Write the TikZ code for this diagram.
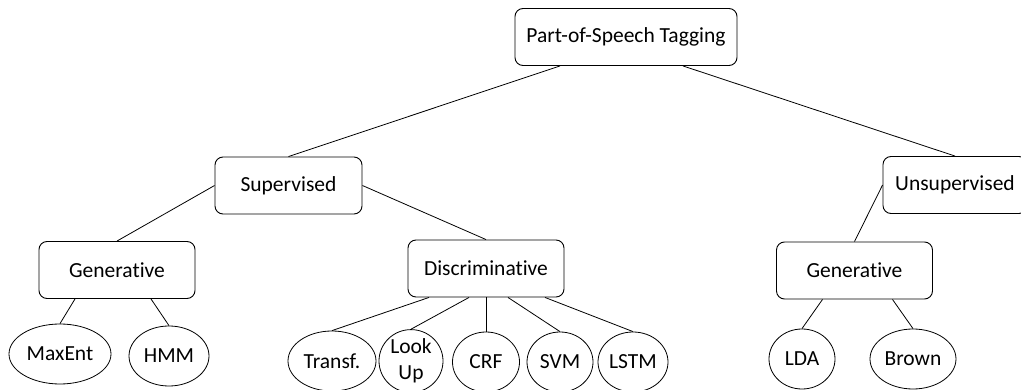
\documentclass[tikz,border=0pt]{standalone}
\usepackage{fontspec}
\setmainfont{Carlito}[Ligatures=NoCommon]
\usetikzlibrary{shapes.geometric}

\begin{document}
\begin{tikzpicture}[x=1pt,y=-1pt,
    catbox/.style={draw,rounded corners=8pt,line width=0.9pt,minimum width=156pt,minimum height=57pt,inner sep=2pt,font=\fontsize{21.5}{26}\selectfont},
    method/.style={draw,ellipse,line width=0.8pt,minimum height=60pt,inner sep=0pt,align=center,font=\fontsize{21.5}{26}\selectfont},
    link/.style={line width=0.8pt}]
  \useasboundingbox (0,0) rectangle (1021,390);
  % top level
  \node[catbox,minimum width=222pt] (root) at (626,37) {Part-of-Speech Tagging};
  \node[catbox,minimum width=147pt] (sup) at (288.5,185.5) {Supervised};
  \node[catbox,minimum width=144pt] (uns) at (955,185) {Unsupervised};
  % middle level
  \node[catbox] (gen) at (117,270) {Generative};
  \node[catbox] (disc) at (486,268.5) {Discriminative};
  \node[catbox] (ugen) at (854.5,270.5) {Generative};
  % leaves
  \node[method,minimum width=102pt] (maxent) at (60,354) {MaxEnt};
  \node[method,minimum width=80pt] (hmm) at (169,356) {HMM};
  \node[method,minimum width=88pt] (transf) at (332,361) {Transf.};
  \node[method,minimum width=64pt] (lookup) at (411,361) {Look\\Up};
  \node[method,minimum width=67pt] (crf) at (486,362) {CRF};
  \node[method,minimum width=66pt] (svm) at (560,362) {SVM};
  \node[method,minimum width=70pt] (lstm) at (633,362) {LSTM};
  \node[method,minimum width=66pt] (lda) at (802,359) {LDA};
  \node[method,minimum width=86pt] (brown) at (913,359) {Brown};
  % connectors
  \draw[link] ([xshift=-66pt]root.south) -- (sup.north);
  \draw[link] ([xshift=57pt]root.south) -- (uns.north);
  \draw[link] (sup.west) -- (gen.north);
  \draw[link] (sup.east) -- (disc.north);
  \draw[link] (uns.west) -- (ugen.north);
  \draw[link] ([xshift=-42pt]gen.south) -- (maxent.north);
  \draw[link] ([xshift=34pt]gen.south) -- (hmm.north);
  \draw[link] ([xshift=-57pt]disc.south) -- (transf.north);
  \draw[link] ([xshift=-17pt]disc.south) -- (lookup.north);
  \draw[link] (disc.south) -- (crf.north);
  \draw[link] ([xshift=22pt]disc.south) -- (svm.north);
  \draw[link] ([xshift=59pt]disc.south) -- (lstm.north);
  \draw[link] ([xshift=-32pt]ugen.south) -- (lda.north);
  \draw[link] ([xshift=38pt]ugen.south) -- (brown.north);
\end{tikzpicture}
\end{document}
